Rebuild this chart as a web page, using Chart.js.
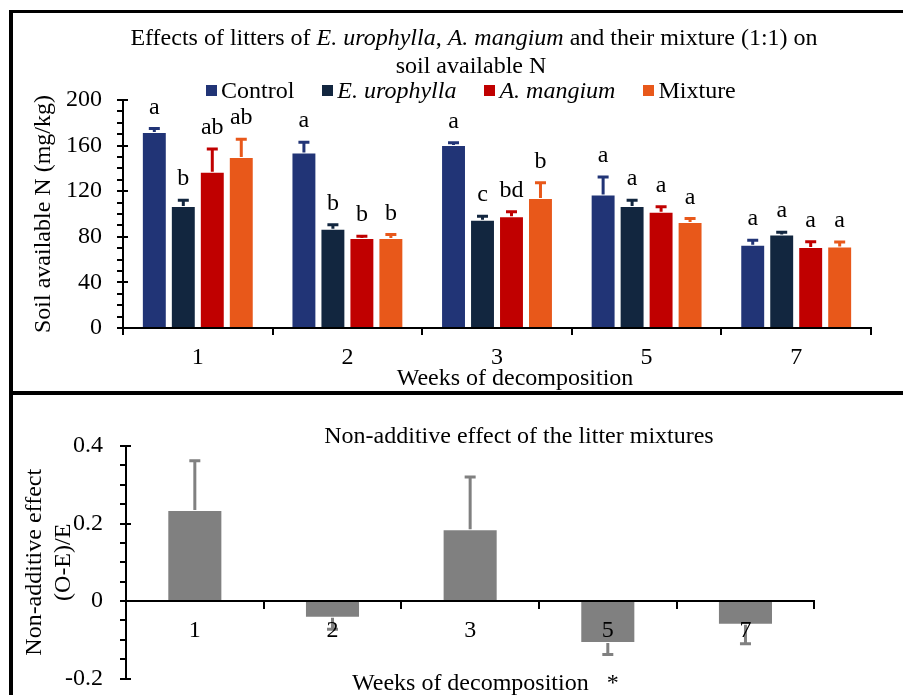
<!DOCTYPE html>
<html>
<head>
<meta charset="utf-8">
<script src="https://cdn.jsdelivr.net/npm/chart.js@4.4.1/dist/chart.umd.min.js"></script>
<style>
  html, body { margin: 0; padding: 0; background: #fff; }
  #page { position: relative; width: 903px; height: 695px; overflow: hidden; font-family: 'Liberation Serif', 'Times New Roman', serif; color: #000; }
  canvas { position: absolute; left: 0; }
  .line { position: absolute; background: #000; }
  .txt { position: absolute; white-space: pre; font-size: 24px; line-height: 1; transform: translate(-50%, -50%); }
  #legend { position: absolute; left: 206px; top: 90px; transform: translateY(-50%); display: flex; font-size: 24px; line-height: 1; white-space: nowrap; }
  #legend .item { display: flex; align-items: center; margin-right: 28px; }
  #legend .sw { width: 11px; height: 11px; margin-right: 4px; display: inline-block; }
</style>
</head>
<body>
<div id="page">
  <canvas id="topChart" width="903" height="391" style="top:0"></canvas>
  <!-- taller than the panel: the y axis reserves label padding below the chart area -->
  <canvas id="bottomChart" width="903" height="315" style="top:395px"></canvas>

  <!-- panel frame -->
  <div class="line" style="left:9px; top:10px; width:894px; height:3px"></div>
  <div class="line" style="left:9px; top:10px; width:4px; height:685px"></div>
  <div class="line" style="left:9px; top:391px; width:894px; height:4px"></div>

  <div class="txt" style="left:474px; top:37px">Effects of litters of <i>E. urophylla</i>, <i>A. mangium</i> and their mixture (1:1) on</div>
  <div class="txt" style="left:471px; top:65px">soil available N</div>
  <div id="legend"></div>
  <div class="txt" style="left:515px; top:377px">Weeks of decomposition</div>
  <div class="txt" style="left:519px; top:435px">Non-additive effect of the litter mixtures</div>
  <div class="txt" style="left:352px; top:682px; transform: translateY(-50%)">Weeks of decomposition   *</div>
</div>

<script>
// Weeks (categories)
const weeks = ['1', '2', '3', '5', '7'];

// Soil available N (mg/kg), mean and SE
const seriesNames = ['Control', 'E. urophylla', 'A. mangium', 'Mixture'];
const controlN = [172, 154, 160.5, 117, 73];
const controlErr = [3, 9, 2, 15.5, 4];
const urophyllaN = [107, 87, 95, 107, 82];
const urophyllaErr = [5, 3.5, 3, 5, 2];
const mangiumN = [137, 79, 98, 102, 71];
const mangiumErr = [20, 1.5, 4, 4.3, 4.7];
const mixtureN = [150, 79, 114, 93, 71.5];
const mixtureErr = [15.5, 3, 13.5, 3, 4];

// significance letters
const controlLetters = ['a', 'a', 'a', 'a', 'a'];
const urophyllaLetters = ['b', 'b', 'c', 'a', 'a'];
const mangiumLetters = ['ab', 'b', 'bd', 'a', 'a'];
const mixtureLetters = ['ab', 'b', 'b', 'a', 'a'];

// Non-additive effect (O-E)/E
const nonAdditive = [0.235, -0.043, 0.185, -0.108, -0.061];
const nonAdditiveErr = [0.127, 0.03, 0.135, 0.03, 0.049];

// styles
const seriesColors = ['#213476', '#12263f', '#c00000', '#e8581a'];
const legendItalic = [false, true, true, false];
const FONT = "'Liberation Serif', 'Times New Roman', serif";

// build html legend
const legendEl = document.getElementById('legend');
seriesNames.forEach((name, i) => {
    const item = document.createElement('span');
    item.className = 'item';
    item.innerHTML = '<span class="sw" style="background:' + seriesColors[i] + '"></span>' +
        (legendItalic[i] ? '<i>' + name + '</i>' : name);
    legendEl.appendChild(item);
});

function isMajor(v, every) {
    return Math.abs(v / every - Math.round(v / every)) < 1e-6;
}

// Error bars (+ optional letters above them)
const errorBars = {
    id: 'errorBars',
    afterDatasetsDraw(chart) {
        const ctx = chart.ctx;
        const yScale = chart.scales.y;
        chart.data.datasets.forEach((ds, i) => {
            const meta = chart.getDatasetMeta(i);
            meta.data.forEach((bar, j) => {
                const v = ds.data[j];
                const e = ds.errors[j];
                const yEnd = yScale.getPixelForValue(v >= 0 ? v + e : v - e);
                ctx.save();
                ctx.strokeStyle = ds.backgroundColor;
                ctx.lineWidth = 3;
                ctx.beginPath();
                ctx.moveTo(bar.x, bar.y);
                ctx.lineTo(bar.x, yEnd);
                ctx.moveTo(bar.x - 5.5, yEnd);
                ctx.lineTo(bar.x + 5.5, yEnd);
                ctx.stroke();
                if (ds.letters) {
                    ctx.fillStyle = '#000';
                    ctx.font = '24px ' + FONT;
                    ctx.textAlign = 'center';
                    ctx.textBaseline = 'alphabetic';
                    ctx.fillText(ds.letters[j], bar.x, yEnd - 15);
                }
                ctx.restore();
            });
        });
    }
};

// major y ticks cross the axis line
const majorTicks = {
    id: 'majorTicks',
    afterDraw(chart, args, opts) {
        const y = chart.scales.y;
        const ctx = chart.ctx;
        ctx.save();
        ctx.strokeStyle = '#000';
        ctx.lineWidth = 2;
        y.ticks.forEach(t => {
            if (!isMajor(t.value, opts.every)) return;
            const py = Math.round(y.getPixelForValue(t.value));
            ctx.beginPath();
            ctx.moveTo(y.right, py);
            ctx.lineTo(y.right + 5, py);
            ctx.stroke();
        });
        ctx.restore();
    }
};

const axisFont = { family: FONT, size: 24 };
const gridStyle = { drawOnChartArea: false, color: '#000', lineWidth: 2 };
const borderStyle = { color: '#000', width: 2 };

// Top chart: soil available N
new Chart(document.getElementById('topChart'), {
    type: 'bar',
    data: {
        labels: weeks,
        datasets: [
            { label: seriesNames[0], data: controlN, errors: controlErr, letters: controlLetters, backgroundColor: seriesColors[0] },
            { label: seriesNames[1], data: urophyllaN, errors: urophyllaErr, letters: urophyllaLetters, backgroundColor: seriesColors[1] },
            { label: seriesNames[2], data: mangiumN, errors: mangiumErr, letters: mangiumLetters, backgroundColor: seriesColors[2] },
            { label: seriesNames[3], data: mixtureN, errors: mixtureErr, letters: mixtureLetters, backgroundColor: seriesColors[3] }
        ].map(ds => Object.assign(ds, {
            borderColor: 'rgba(255,255,255,0.35)',
            borderWidth: 1,
            categoryPercentage: 0.775,
            barPercentage: 0.86
        }))
    },
    options: {
        responsive: false,
        animation: false,
        events: [],
        layout: { padding: { top: 100, right: 32, left: 0, bottom: 0 } },
        plugins: {
            legend: { display: false },
            tooltip: { enabled: false },
            majorTicks: { every: 40 }
        },
        scales: {
            x: {
                grid: Object.assign({ offset: true, tickLength: 7 }, gridStyle),
                border: borderStyle,
                ticks: { font: axisFont, color: '#000', padding: 8 },
                afterFit(s) { s.height = 63; }
            },
            y: {
                min: 0,
                max: 200,
                grid: Object.assign({ tickLength: 6 }, gridStyle),
                border: borderStyle,
                ticks: {
                    stepSize: 10,
                    autoSkip: false,
                    font: axisFont,
                    color: '#000',
                    padding: 15,
                    callback: v => isMajor(v, 40) ? v : ''
                },
                title: {
                    display: true,
                    text: 'Soil available N (mg/kg)',
                    font: axisFont,
                    color: '#000',
                    padding: { top: 29, bottom: 0 }
                },
                afterFit(s) { s.width = 123; }
            }
        }
    },
    plugins: [errorBars, majorTicks]
});

// Bottom chart: non-additive effect
new Chart(document.getElementById('bottomChart'), {
    type: 'bar',
    data: {
        labels: weeks,
        datasets: [{
            label: 'Non-additive effect',
            data: nonAdditive,
            errors: nonAdditiveErr,
            backgroundColor: '#808080',
            borderColor: 'rgba(255,255,255,0.35)',
            borderWidth: 1,
            categoryPercentage: 0.5,
            barPercentage: 0.8
        }]
    },
    options: {
        responsive: false,
        animation: false,
        events: [],
        layout: { padding: { top: 51, right: 88.7, left: 0, bottom: 0 } },
        plugins: {
            legend: { display: false },
            tooltip: { enabled: false },
            majorTicks: { every: 0.2 }
        },
        scales: {
            x: {
                // axis sits at y = 0, labels drawn over the bars
                position: { y: 0 },
                grid: Object.assign({ offset: true, tickLength: 7, z: 1 }, gridStyle),
                border: Object.assign({ z: 1 }, borderStyle),
                ticks: { font: axisFont, color: '#000', padding: 8, z: 1 }
            },
            y: {
                min: -0.2,
                max: 0.4,
                grid: Object.assign({ tickLength: 6 }, gridStyle),
                border: borderStyle,
                ticks: {
                    stepSize: 0.05,
                    autoSkip: false,
                    font: axisFont,
                    color: '#000',
                    padding: 17,
                    callback: v => isMajor(v, 0.2) ? Math.round(v * 10) / 10 : ''
                },
                title: {
                    display: true,
                    text: ['Non-additive effect', '(O-E)/E'],
                    font: { family: FONT, size: 24, lineHeight: 1.2 },
                    color: '#000',
                    padding: { top: 20.5, bottom: 0 }
                },
                afterFit(s) { s.width = 126; }
            }
        }
    },
    plugins: [errorBars, majorTicks]
});
</script>
</body>
</html>
